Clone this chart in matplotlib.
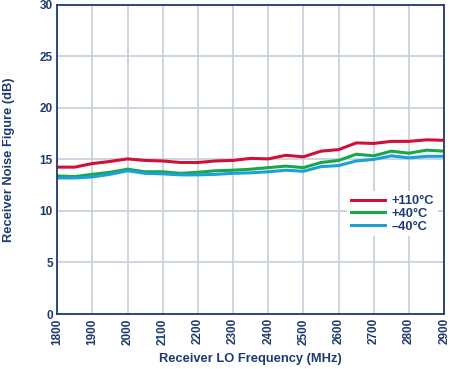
import matplotlib
matplotlib.use("Agg")
import matplotlib.pyplot as plt
import numpy as np

# receiver LO frequency (MHz), 50 MHz steps
freq = np.arange(1800, 2901, 50)

nf_110 = [14.25, 14.25, 14.6, 14.8, 15.05, 14.9, 14.85, 14.7, 14.7, 14.85, 14.9, 15.1,
          15.05, 15.4, 15.25, 15.8, 15.95, 16.6, 16.55, 16.75, 16.75, 16.9, 16.85]
nf_40 = [13.4, 13.33, 13.55, 13.75, 14.05, 13.8, 13.8, 13.65, 13.75, 13.9, 13.95, 14.05,
         14.2, 14.35, 14.2, 14.7, 14.9, 15.5, 15.35, 15.8, 15.6, 15.9, 15.8]
nf_m40 = [13.2, 13.2, 13.3, 13.55, 13.9, 13.65, 13.6, 13.5, 13.5, 13.55, 13.65, 13.7,
          13.8, 13.95, 13.85, 14.3, 14.4, 14.85, 15.0, 15.35, 15.15, 15.3, 15.3]

navy = '#1f3a6e'
plt.rcParams['font.family'] = ['Liberation Sans', 'DejaVu Sans']
plt.rcParams['font.weight'] = 'bold'

fig = plt.figure(figsize=(4.5, 3.69), dpi=100)
ax = fig.add_axes([0.127, 0.149, 0.86, 0.838])

ax.plot(freq, nf_110, color='#d0103a', lw=2.2, label='+110°C')
ax.plot(freq, nf_40, color='#1aa64a', lw=2.2, label='+40°C')
ax.plot(freq, nf_m40, color='#1ba1d8', lw=2.2, label='–40°C')

ax.set_xlim(1800, 2900)
ax.set_ylim(0, 30)
ax.set_xticks(np.arange(1800, 2901, 100))
ax.set_yticks(np.arange(0, 31, 5))
ax.grid(True, color='#c5d0dc', lw=1.2)
ax.set_axisbelow(True)

for s in ax.spines.values():
    s.set_color(navy)
    s.set_linewidth(1.3)
ax.tick_params(colors=navy, labelsize=8.5, length=0, pad=3)
plt.setp(ax.get_xticklabels(), rotation=90, fontweight='bold')
plt.setp(ax.get_yticklabels(), fontweight='bold')

ax.set_xlabel('Receiver LO Frequency (MHz)', color=navy, fontsize=9.3, fontweight='bold', labelpad=6)
ax.set_ylabel('Receiver Noise Figure (dB)', color=navy, fontsize=9.3, fontweight='bold', labelpad=18)

leg = ax.legend(loc='lower right', bbox_to_anchor=(1.0, 0.23), frameon=True, fancybox=False,
                edgecolor='none', facecolor='white', framealpha=1, fontsize=9.3,
                handlelength=2.6, labelspacing=0.05, handletextpad=0.5, borderpad=0.3)
for t in leg.get_texts():
    t.set_color(navy)
    t.set_fontweight('bold')

fig.savefig('out.png', dpi=100)
